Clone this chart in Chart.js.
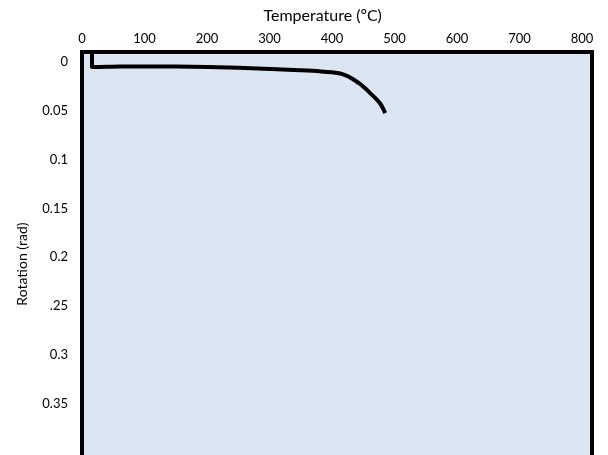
<!DOCTYPE html>
<html>
<head>
<meta charset="utf-8">
<script src="https://cdn.jsdelivr.net/npm/chart.js@4.4.1/dist/chart.umd.min.js"></script>
<style>
html,body{margin:0;padding:0;background:#fff;overflow:hidden;}
#wrap{width:608px;height:455px;overflow:hidden;}
</style>
</head>
<body>
<div id="wrap"><canvas id="c" width="608" height="498"></canvas></div>
<script>
// Data
const temperature = [16, 16, 61, 101, 150, 202, 250, 302, 349, 382, 400, 413, 421, 429, 437, 445, 453, 461, 469, 477, 482, 485];
const rotation    = [-0.01025, 0.0051, 0.0046, 0.0045, 0.0046, 0.0051, 0.0059, 0.0071, 0.0084, 0.0096, 0.0106, 0.0118, 0.0135, 0.0158, 0.0190, 0.0225, 0.0268, 0.0318, 0.0368, 0.0425, 0.0480, 0.0523];
const xTicks = [0, 100, 200, 300, 400, 500, 600, 700, 800];
const yTicks = [0, 0.05, 0.1, 0.15, 0.2, 0.25, 0.3, 0.35];
const yTickLabels = ['0', '0.05', '0.1', '0.15', '0.2', '.25', '0.3', '0.35'];
const xTitle = 'Temperature (ºC)';
const yTitle = 'Rotation (rad)';

const FONT = 'Lato';

const framePlugin = {
  id: 'frame',
  beforeDatasetsDraw(chart) {
    const {ctx, chartArea: a} = chart;
    ctx.save();
    ctx.fillStyle = '#dce6f2';
    ctx.fillRect(a.left, a.top, a.right - a.left, a.bottom - a.top);
    ctx.restore();
  },
  afterDatasetsDraw(chart) {
    const {ctx, chartArea: a} = chart;
    ctx.save();
    ctx.strokeStyle = '#000';
    ctx.lineWidth = 4;
    ctx.lineCap = 'square';
    ctx.beginPath();
    ctx.moveTo(a.left, a.bottom + 30);
    ctx.lineTo(a.left, a.top);
    ctx.lineTo(a.right, a.top);
    ctx.lineTo(a.right, a.bottom + 30);
    ctx.stroke();
    ctx.restore();
  }
};

new Chart(document.getElementById('c'), {
  type: 'scatter',
  data: {
    datasets: [{
      data: temperature.map((t, i) => ({x: t, y: rotation[i]})),
      showLine: true,
      borderColor: '#000',
      borderWidth: 4,
      borderJoinStyle: 'round',
      pointRadius: 0,
      cubicInterpolationMode: 'monotone',
      fill: false
    }]
  },
  plugins: [framePlugin],
  options: {
    responsive: false,
    animation: false,
    events: [],
    layout: {padding: {left: 0, right: 16, top: 0, bottom: 0}},
    plugins: {legend: {display: false}, tooltip: {enabled: false}},
    scales: {
      x: {
        type: 'linear',
        position: 'top',
        min: 0,
        max: 816,
        afterBuildTicks(scale) { scale.ticks = xTicks.map(v => ({value: v})); },
        afterFit(scale) { scale.height = 52; },
        grid: {display: false, drawTicks: false},
        border: {display: false},
        ticks: {color: '#000', font: {family: FONT, size: 13}, padding: 5, maxRotation: 0, autoSkip: false},
        title: {display: true, text: xTitle + '\u00a0'.repeat(7), color: '#000', font: {family: FONT, size: 16}, padding: {top: 6, bottom: 0}}
      },
      y: {
        type: 'linear',
        reverse: true,
        min: -0.01025,
        max: 0.4242,
        afterBuildTicks(scale) { scale.ticks = yTicks.map(v => ({value: v})); },
        afterFit(scale) { scale.width = 82; },
        grid: {display: false, drawTicks: false},
        border: {display: false},
        ticks: {
          color: '#000', font: {family: FONT, size: 13}, padding: 14, autoSkip: false,
          callback(v, i) { return yTickLabels[i]; }
        },
        title: {display: true, text: yTitle, color: '#000', font: {family: FONT, size: 14}, padding: {top: 14, bottom: 0}}
      }
    }
  }
});
</script>
</body>
</html>
